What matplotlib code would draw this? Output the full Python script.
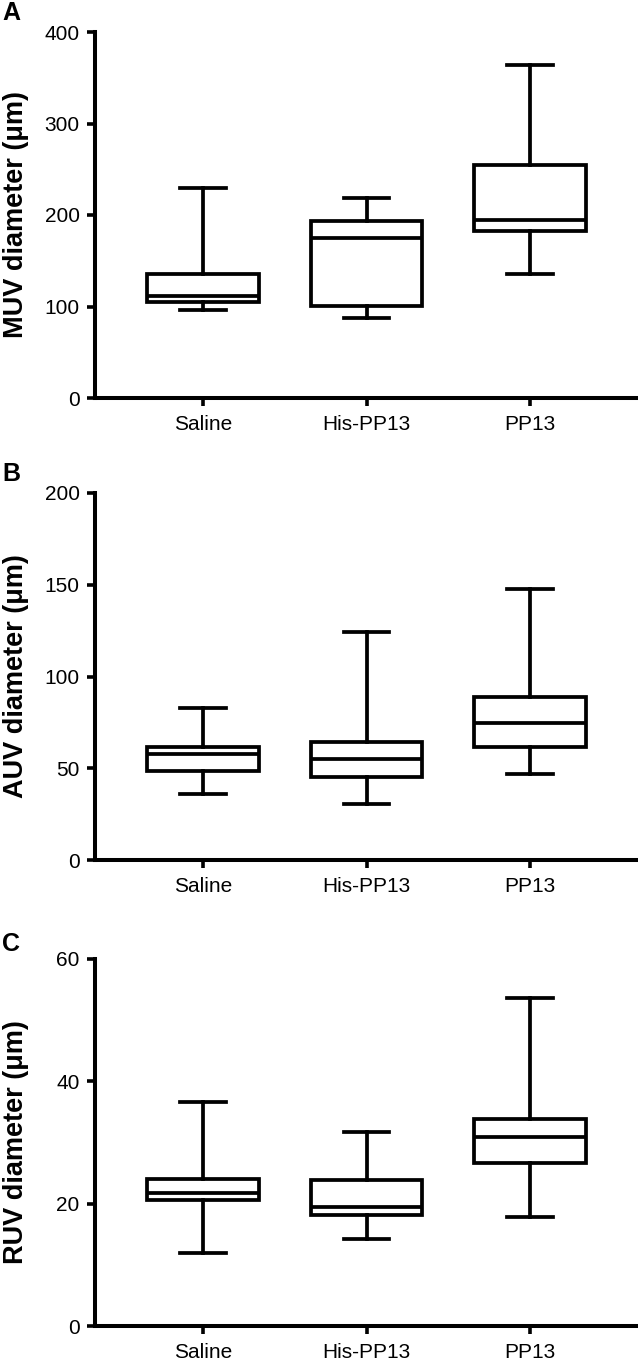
import matplotlib
matplotlib.use("Agg")
import matplotlib.pyplot as plt

plt.rcParams['font.family'] = ['Liberation Sans', 'DejaVu Sans']

groups = ["Saline", "His-PP13", "PP13"]

# whisker low, Q1, median, Q3, whisker high
muv_low = [96.5, 87, 136]
muv_q1 = [105, 100.5, 183]
muv_med = [112, 175, 195]
muv_q3 = [136, 193, 255]
muv_high = [229, 219, 364]

auv_low = [35.8, 30.4, 47.1]
auv_q1 = [48.5, 45.5, 61.5]
auv_med = [57.8, 55.1, 74.4]
auv_q3 = [61.8, 64.4, 88.7]
auv_high = [82.7, 124.2, 147.5]

ruv_low = [12.0, 14.2, 17.8]
ruv_q1 = [20.6, 18.1, 26.6]
ruv_med = [21.7, 19.4, 30.9]
ruv_q3 = [24.1, 23.9, 33.9]
ruv_high = [36.7, 31.7, 53.7]

panels = [
    ("A", "MUV diameter (μm)", [0, 100, 200, 300, 400], (muv_low, muv_q1, muv_med, muv_q3, muv_high)),
    ("B", "AUV diameter (μm)", [0, 50, 100, 150, 200], (auv_low, auv_q1, auv_med, auv_q3, auv_high)),
    ("C", "RUV diameter (μm)", [0, 20, 40, 60], (ruv_low, ruv_q1, ruv_med, ruv_q3, ruv_high)),
]

W, H = 638, 1361
fig = plt.figure(figsize=(W / 100, H / 100), dpi=100)

# axes top / bottom in pixels, and letter top
layout = [(32, 398, 1), (493, 860, 462), (959, 1326, 932)]

lw = 2.7
for (letter, ylabel, yticks, data), (top, bot, ltop) in zip(panels, layout):
    ax = fig.add_axes([95 / W, 1 - bot / H, 1 - 95 / W, (bot - top) / H])
    low, q1, med, q3, high = data
    stats = []
    for i in range(len(groups)):
        stats.append(dict(label=groups[i], whislo=low[i], q1=q1[i], med=med[i],
                          q3=q3[i], whishi=high[i], fliers=[]))
    ax.bxp(stats, positions=range(len(groups)), widths=0.68, capwidths=0.28,
           showfliers=False, patch_artist=True,
           boxprops=dict(facecolor="white", edgecolor="black", linewidth=lw),
           medianprops=dict(color="black", linewidth=lw),
           whiskerprops=dict(color="black", linewidth=lw),
           capprops=dict(color="black", linewidth=lw))
    ax.set_xlim(-0.66, 2.66)
    ax.set_ylim(yticks[0], yticks[-1])
    ax.set_yticks(yticks)
    ax.set_xticks(range(len(groups)))
    ax.set_xticklabels(groups)
    for s in ["top", "right"]:
        ax.spines[s].set_visible(False)
    for s in ["left", "bottom"]:
        ax.spines[s].set_linewidth(2.9)
    ax.tick_params(axis="both", direction="out", length=6, width=2.6,
                   labelsize=15, colors="black")
    ax.tick_params(axis="y", pad=5)
    ax.tick_params(axis="x", pad=6)
    ax.set_ylabel(ylabel, fontsize=19.5, fontweight="bold")
    ax.yaxis.set_label_coords(-0.122, 0.5)
    fig.text(2 / W, 1 - ltop / H, letter, fontsize=18, fontweight="bold",
             ha="left", va="top")

fig.savefig("out.png", dpi=100)
